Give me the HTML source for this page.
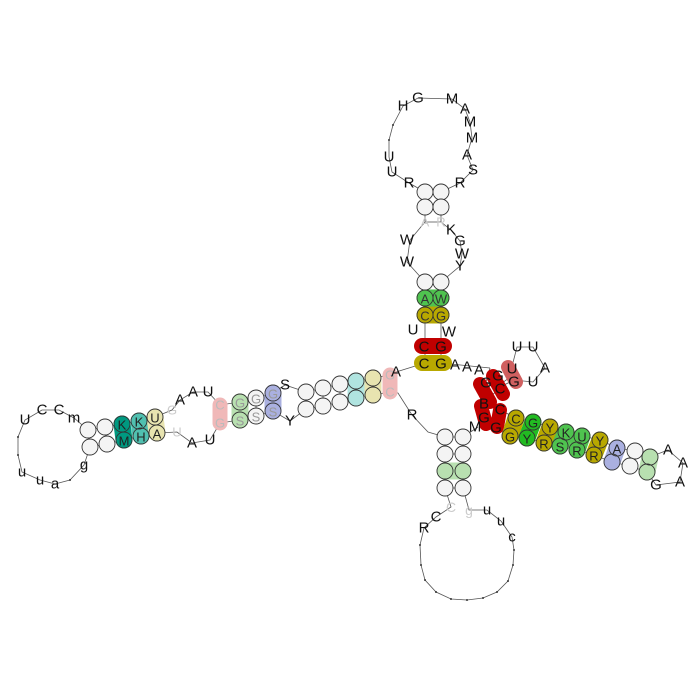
<!DOCTYPE html>
<html><head><meta charset="utf-8"><style>
html,body{margin:0;padding:0;background:#fff}
svg{display:block}
text{font-family:"Liberation Sans",sans-serif;text-anchor:middle;dominant-baseline:central}
</style></head><body>
<svg id="s" width="700" height="700" viewBox="0 0 700 700">
<g id="bb" stroke="#555" stroke-width="0.8" fill="none"></g>
<g id="pl"></g>
<g id="nt"></g>
</svg>
<script>
const NS="http://www.w3.org/2000/svg";
const bb=document.getElementById('bb'),pl=document.getElementById('pl'),nt=document.getElementById('nt');
function mk(t,a,p){const e=document.createElementNS(NS,t);for(const k in a)e.setAttribute(k,a[k]);p.appendChild(e);return e;}
function line(pts){const e=mk('polyline',{points:pts.map(p=>p.join(',')).join(' ')},bb);

}
function c(x,y,f,l,lc){const fill=(f&&f!=='#f0f0f0')?'none':'#f4f4f4';
const e=mk('circle',{cx:x,cy:y,r:8,fill:fill,stroke:'#333','stroke-width':0.9},nt);


if(l){const t=mk('text',{x:x,y:y+1,'font-size':13,fill:lc||'#ccc'},nt);t.textContent=l;}}
function L(x,y,l,col,fs){const t=mk('text',{x:x,y:y,'font-size':fs||15,fill:col||'#111'},nt);t.textContent=l;

}
function dot(x,y){mk('circle',{cx:x,cy:y,r:1,fill:'#333'},nt);}
function pill(x1,y1,x2,y2,col,w){const e=mk('line',{x1:x1,y1:y1,x2:x2,y2:y2,stroke:col,'stroke-width':w||17,'stroke-linecap':'round'},pl);

}
function pair(x1,y1,x2,y2){mk('line',{x1:x1,y1:y1,x2:x2,y2:y2,stroke:'#555','stroke-width':0.8},bb);}
const RED='#c00000',YEL='#b8a800',GRN='#4fc34f',LG='#b8e0b0',TEAL='#50c0b0',DTEAL='#009980',BLUE='#aab0e0',PINK='#f0b8b8',PY='#e8e4b0',LT='#b0e4e0';

// top loop
const topLoop=[[425,192],[409,183],[392,172],[389,157],[389,140],[393,125],[403,106],[418,98],[452,99],[465,109],[470,122],[472,138],[467,155],[473,170],[460,183],[441,192]];
line(topLoop);
L(409,183,'R');L(392,172,'U');L(389,157,'U');dot(389,140);dot(393,125);L(403,106,'H');L(418,98,'G');
L(452,99,'M');L(465,109,'A');L(470,122,'M');L(472,138,'M');L(467,155,'A');L(473,170,'S');L(460,183,'R');
// top stem
line([[425,192],[425,222],[410,240],[407,262],[425,282],[425,346],[425,363]]);
line([[441,192],[441,222],[451,230],[460,241],[462,254],[460,266],[441,282],[441,346],[441,363],[490,368]]);
[192,207,222,282,298,315].forEach(y=>pair(425,y,441,y));
pill(425,298,441,298,GRN,17);pill(425,315,441,315,YEL,17);
pill(422,346,444,346,RED,16);pill(422,363,444,363,YEL,16);
c(425,192,'#f0f0f0');c(441,192,'#f0f0f0');c(425,207,'#f0f0f0');c(441,207,'#f0f0f0');
L(425,222,'A','#ccc',13);L(441,222,'R','#ccc',13);
L(407,240,'W');L(407,262,'W');L(451,230,'K');L(460,241,'G');L(462,254,'W');L(460,266,'Y');
c(425,282,'#f0f0f0');c(441,282,'#f0f0f0');
c(425,298,GRN,'A','#333');c(441,298,GRN,'W','#333');
c(425,315,YEL,'C','#333');c(441,315,YEL,'G','#333');
L(413,330,'U');L(449,332,'W');
L(424,347,'C');L(441,347,'G');L(424,364,'C');L(441,364,'G');
L(455,365,'A');L(467,367,'A');L(479,370,'A');

// left arm
const topRow=[[88,430],[105,427],[122,424],[139,421],[155,417]];
const botRow=[[90,447],[107,444],[124,440],[141,436],[157,433]];
const topRow2=[[240,402],[256,398],[273,393]],botRow2=[[240,420],[256,416],[273,411]];
const topRow3=[[306,392],[323,388],[340,384],[356,381],[373,378],[390,375]];
const botRow3=[[306,409],[323,406],[340,402],[356,398],[373,395],[390,392]];
line([[425,363],[396,372],...topRow3.slice().reverse(),[285,385],...topRow2.slice().reverse(),[220,405],[208,392],[193,392],[180,400],[172,410],...topRow.slice().reverse(),[74,418],[59,410],[42,410],[25,420],[18,437],[18,455],[22,472],[40,480],[55,484],[70,480],[84,465],...botRow,[177,432],[192,443],[210,440],[220,423],...botRow2,[290,421],...botRow3,[398,393],[412,415],[428,432],[445,437]]);
for(let i=0;i<5;i++)pair(topRow[i][0],topRow[i][1],botRow[i][0],botRow[i][1]);
for(let i=0;i<3;i++)pair(topRow2[i][0],topRow2[i][1],botRow2[i][0],botRow2[i][1]);
for(let i=0;i<6;i++)pair(topRow3[i][0],topRow3[i][1],botRow3[i][0],botRow3[i][1]);
pill(122,424,124,440,DTEAL,17);pill(139,421,141,436,TEAL,17);pill(155,417,157,433,PY,17);
pill(220,405,220,423,PINK,15);pill(240,402,240,420,LG,17);pill(273,393,273,411,BLUE,17);
pill(356,381,356,398,LT,17);pill(373,378,373,395,PY,17);pill(390,375,390,392,PINK,15);
const lf=[null,null,DTEAL,TEAL,PY];const lt=['','','K','K','U'],lb=['','','M','H','A'];
for(let i=0;i<5;i++){c(topRow[i][0],topRow[i][1],lf[i]||'#f0f0f0',lt[i],'#222');c(botRow[i][0],botRow[i][1],lf[i]||'#f0f0f0',lb[i],'#222');}
const mf=[LG,'#f0f0f0',BLUE];
for(let i=0;i<3;i++){c(topRow2[i][0],topRow2[i][1],mf[i],'G','#999');c(botRow2[i][0],botRow2[i][1],mf[i],'S','#999');}
const rf=['#f0f0f0','#f0f0f0','#f0f0f0',LT,PY,null];
for(let i=0;i<5;i++){c(topRow3[i][0],topRow3[i][1],rf[i]);c(botRow3[i][0],botRow3[i][1],rf[i]);}
L(390,375,'G','#bbb',13);L(390,392,'C','#bbb',13);L(220,405,'C','#bbb',13);L(220,423,'G','#bbb',13);
L(172,410,'G','#ccc',13);L(177,432,'U','#ccc',13);
L(180,400,'A');L(193,392,'A');L(208,392,'U');L(192,443,'A');L(210,440,'U');
L(285,385,'S');L(290,421,'Y');L(396,372,'A');L(412,415,'R');
L(74,418,'m');L(59,410,'C');L(42,410,'C');L(25,420,'U');dot(18,437);dot(18,455);L(22,472,'u');L(40,480,'u');L(55,484,'a');dot(70,480);L(84,465,'g');

// right arm
pill(480,384,490,402,RED,14);pill(493,376,503,394,RED,14);pill(508,367,516,382,'#d06060',14);
pill(481,406,486,424,RED,14);pill(500,410,497,427,RED,14);
line([[490,368],[486,382],[495,388],[509,378],[517,347],[533,347],[545,368],[533,382],[514,380],[500,387],[484,404],[484,418]]);
L(486,383,'G');L(498,376,'G');L(500,389,'C');L(512,369,'U');L(514,382,'G');
L(517,347,'U');L(533,347,'U');L(545,368,'A');L(533,382,'U');
L(484,404,'B');L(484,418,'G');L(500,410,'C');L(496,428,'G');L(475,427,'M');
const rt=[[516,418],[533,422],[550,427],[566,432],[582,436],[600,440],[617,448],[635,451],[650,457]];
const rb=[[510,436],[527,438],[544,443],[560,446],[577,450],[594,455],[612,462],[630,466],[647,472]];
const rcol=[YEL,'#22bb22',YEL,GRN,GRN,YEL,BLUE,'#f0f0f0',LG];
const rtl=['C','G','Y','K','U','Y','A','',''],rbl=['G','Y','R','S','R','R','','',''];
line([[500,410],...rt,[668,450],[683,463],[680,482],[656,485],...rb.slice().reverse(),[496,428]]);
for(let i=0;i<9;i++){pair(rt[i][0],rt[i][1],rb[i][0],rb[i][1]);if(i!=7)pill(rt[i][0],rt[i][1],rb[i][0],rb[i][1],rcol[i],17);}
for(let i=0;i<9;i++){c(rt[i][0],rt[i][1],rcol[i],rtl[i],'#222');c(rb[i][0],rb[i][1],rcol[i],rbl[i],'#222');}
L(668,450,'A');L(683,463,'A');L(680,482,'A');L(656,485,'G');

// bottom stem and loop
const bl=[[445,437],[445,454],[445,471],[445,488]],br=[[463,437],[463,454],[463,471],[463,488]];
for(let i=0;i<4;i++)pair(bl[i][0],bl[i][1],br[i][0],br[i][1]);
pill(445,471,463,471,LG,17);
for(let i=0;i<4;i++){c(bl[i][0],bl[i][1],i==2?LG:'#f0f0f0');c(br[i][0],br[i][1],i==2?LG:'#f0f0f0');}
line([[445,488],[451,507],[436,517],[424,528],[420,545],[421,565],[425,580],[436,592],[451,599],[467,600],[483,598],[497,592],[508,581],[513,565],[514,550],[512,537],[501,521],[487,510],[469,510],[463,488]]);
line([[463,437],[478,427]]);
L(451,507,'C','#ccc',14);L(469,510,'g','#ccc',14);L(487,510,'u');L(501,521,'u');L(512,537,'c');
L(436,517,'C');L(424,528,'R');
[[420,545],[421,565],[425,580],[436,592],[451,599],[467,600],[483,598],[497,592],[508,581],[513,565],[514,550]].forEach(p=>dot(p[0],p[1]));
</script>
</body></html>
